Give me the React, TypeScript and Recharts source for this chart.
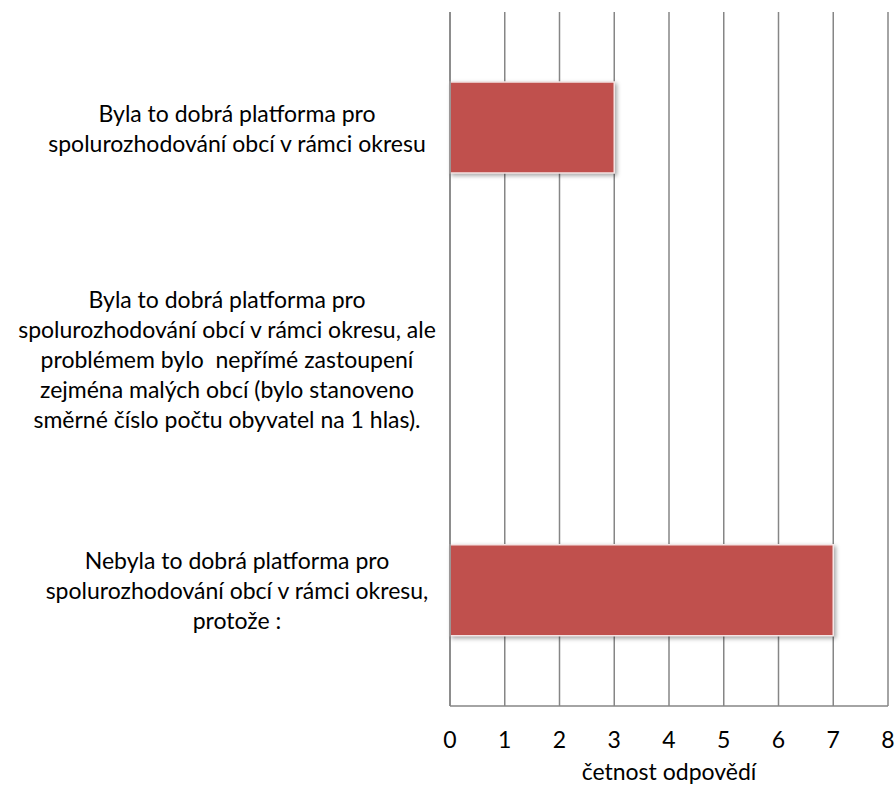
import React from 'react';
import { BarChart, Bar, XAxis, YAxis, CartesianGrid, Rectangle } from 'recharts';

const categories = [
  'Byla to dobrá platforma pro\nspolurozhodování obcí v rámci okresu',
  'Byla to dobrá platforma pro\nspolurozhodování obcí v rámci okresu, ale\nproblémem bylo  nepřímé zastoupení\nzejména malých obcí (bylo stanoveno\nsměrné číslo počtu obyvatel na 1 hlas).',
  'Nebyla to dobrá platforma pro\nspolurozhodování obcí v rámci okresu,\nprotože :',
];
const counts = [3, 0, 7];
const xTicks = [0, 1, 2, 3, 4, 5, 6, 7, 8];
const xTitle = 'četnost odpovědí';

const data = categories.map((c, i) => ({ name: c, value: counts[i] }));

const FONT = 'Lato, "Open Sans", sans-serif';

const CategoryTick = (props: any) => {
  const { x, y, payload } = props;
  const lines: string[] = String(payload.value).split('\n');
  const lh = 30;
  const start = -((lines.length - 1) / 2) * lh;
  const shift = lines.length > 3 ? 223 : 213;
  return (
    <text x={x - shift} y={y} textAnchor="middle" fontFamily={FONT} fontSize={23} fill="#000">
      {lines.map((l, i) => (
        <tspan key={i} x={x - shift} y={y + start + i * lh} dominantBaseline="central" style={{ whiteSpace: 'pre' }}>
          {l}
        </tspan>
      ))}
    </text>
  );
};

const ShadowBar = (props: any) => {
  if (!props.width) return null;
  return (
    <Rectangle
      {...props}
      fill="#C0504D"
      stroke="#F4E4E4"
      strokeWidth={1.5}
      style={{ filter: 'drop-shadow(2px 2px 2px rgba(0,0,0,0.35))' }}
    />
  );
};

export default function App() {
  return (
    <div style={{ position: 'absolute', left: 0, top: 0, background: '#fff' }}>
      <BarChart
        width={895}
        height={786}
        data={data}
        layout="vertical"
        margin={{ top: 12, right: 7, bottom: 0, left: 0 }}
        barCategoryGap="30%"
      >
        <CartesianGrid horizontal={false} vertical={true} stroke="#868686" strokeWidth={1.5} />
        <XAxis
          type="number"
          domain={[0, 8]}
          ticks={xTicks}
          interval={0}
          height={80}
          tickLine={false}
          axisLine={{ stroke: '#868686', strokeWidth: 1.5 }}
          tick={{ fontFamily: FONT, fontSize: 23, fill: '#000' }}
          tickMargin={20}
          label={{ value: xTitle, position: 'insideBottom', offset: 6, fontFamily: FONT, fontSize: 23, fill: '#000' }}
        />
        <YAxis
          type="category"
          dataKey="name"
          width={450}
          tickSize={0}
          tickMargin={0}
          tickLine={false}
          axisLine={{ stroke: '#868686', strokeWidth: 1.5 }}
          tick={<CategoryTick />}
          interval={0}
        />
        <Bar dataKey="value" barSize={91} isAnimationActive={false} shape={<ShadowBar />} />
      </BarChart>
    </div>
  );
}
